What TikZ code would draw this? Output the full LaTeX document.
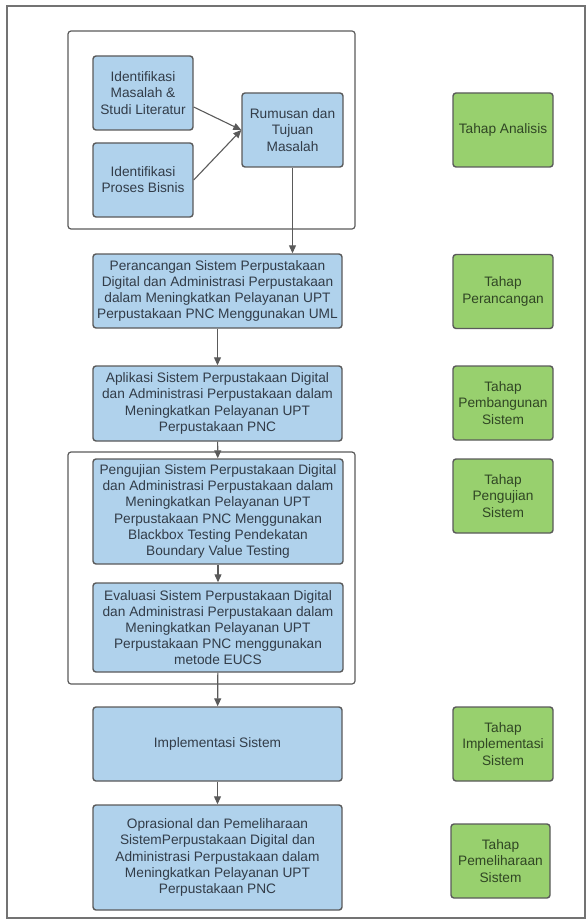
\documentclass[tikz,border=0pt]{standalone}
\usepackage{fontspec}
\setmainfont{Liberation Sans}
\usepackage{tikz}
\usetikzlibrary{arrows.meta}

\definecolor{biru}{RGB}{176,210,236}
\definecolor{hijau}{RGB}{152,208,110}
\definecolor{garis}{RGB}{90,90,90}
\definecolor{teks}{RGB}{50,60,72}
\definecolor{teksh}{RGB}{48,70,36}

\tikzset{
  blok/.style={draw=garis,line width=1.4pt,fill=biru,rounded corners=3pt,
    text=teks,align=center,inner sep=2pt,
    font=\fontsize{13.7}{16.2}\selectfont},
  tahap/.style={draw=garis,line width=1.4pt,fill=hijau,rounded corners=3pt,
    text=teksh,align=center,inner sep=2pt,minimum width=100,minimum height=74,
    font=\fontsize{13.7}{16.2}\selectfont},
  grup/.style={draw=garis,line width=1.2pt,rounded corners=3pt},
  panah/.style={->,draw=garis,line width=1.1pt}
}

\begin{document}
\begin{tikzpicture}[x=1pt,y=-1pt,>={Stealth[length=8pt,width=7pt,inset=0pt]}]
  \useasboundingbox (0,0) rectangle (587,920);
  \draw[draw=garis!85,line width=1.1pt] (7,6) rectangle (585,918);

  % kelompok
  \node[grup,minimum width=287,minimum height=198]  at (211.5,130) (grup1) {};
  \node[grup,minimum width=287,minimum height=232]  at (211.5,568) (grup2) {};

  % tahap analisis
  \node[blok,minimum width=100,minimum height=74]  at (143,93) (idm) {Identifikasi\\Masalah \&\\Studi Literatur};
  \node[blok,minimum width=100,minimum height=74]  at (143,180) (ipb) {Identifikasi\\Proses Bisnis};
  \node[blok,minimum width=101,minimum height=74]  at (292.5,130) (rumusan) {Rumusan dan\\Tujuan\\Masalah};

  % alur utama
  \node[blok,minimum width=249,minimum height=74]  at (217.5,291) (rancang) {Perancangan Sistem Perpustakaan\\Digital dan Administrasi Perpustakaan\\dalam Meningkatkan Pelayanan UPT\\Perpustakaan PNC Menggunakan UML};
  \node[blok,minimum width=249,minimum height=75]  at (217.5,403.5) (aplikasi) {Aplikasi Sistem Perpustakaan Digital\\dan Administrasi Perpustakaan dalam\\Meningkatkan Pelayanan UPT\\Perpustakaan PNC};
  \node[blok,minimum width=250,minimum height=105]  at (218,511.5) (uji) {Pengujian Sistem Perpustakaan Digital\\dan Administrasi Perpustakaan dalam\\Meningkatkan Pelayanan UPT\\Perpustakaan PNC Menggunakan\\Blackbox Testing Pendekatan\\Boundary Value Testing};
  \node[blok,minimum width=250,minimum height=89]  at (218,627.5) (evaluasi) {Evaluasi Sistem Perpustakaan Digital\\dan Administrasi Perpustakaan dalam\\Meningkatkan Pelayanan UPT\\Perpustakaan PNC menggunakan\\metode EUCS};
  \node[blok,minimum width=249,minimum height=74]  at (217.5,744) (implementasi) {Implementasi Sistem};
  \node[blok,minimum width=249,minimum height=105]  at (217.5,857.5) (operasional) {Oprasional dan Pemeliharaan\\SistemPerpustakaan Digital dan\\Administrasi Perpustakaan dalam\\Meningkatkan Pelayanan UPT\\Perpustakaan PNC};

  % label tahap
  \node[tahap]  at (503,130) (tanalisis) {Tahap Analisis};
  \node[tahap]  at (503,291.5) (trancang) {Tahap\\Perancangan};
  \node[tahap]  at (503,403) (tbangun) {Tahap\\Pembangunan\\Sistem};
  \node[tahap]  at (503,496) (tuji) {Tahap\\Pengujian\\Sistem};
  \node[tahap]  at (503,744) (timpl) {Tahap\\Implementasi\\Sistem};
  \node[tahap,minimum width=99]  at (500.5,861) (tpelihara) {Tahap\\Pemeliharaan\\Sistem};

  \draw[panah] ([yshift=-14pt]idm.east) -- (rumusan.west);
  \draw[panah] (ipb.east) -- (rumusan.west);
  \draw[panah] (rumusan.south) -- (rumusan.south |- rancang.north);
  \draw[panah] (rancang) -- (aplikasi);
  \draw[panah] (aplikasi) -- (uji);
  \draw[panah] (uji) -- (evaluasi);
  \draw[panah] (evaluasi) -- (implementasi);
  \draw[panah] (implementasi) -- (operasional);
\end{tikzpicture}
\end{document}
